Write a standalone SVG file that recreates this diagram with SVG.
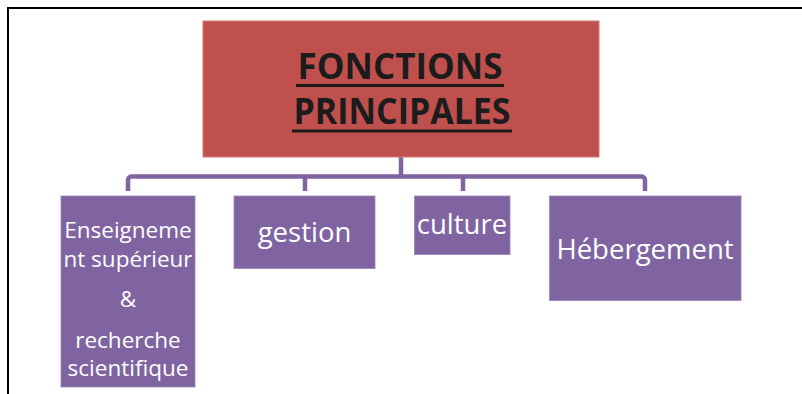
<svg xmlns="http://www.w3.org/2000/svg" width="802" height="394" viewBox="0 0 802 394">
<style>
.frame{fill:none;stroke:#000;stroke-width:2}
.root{fill:#C0504D;stroke:#D47A77;stroke-width:1}
.child{fill:#8064A2;stroke:#9A84B8;stroke-width:0.8}
.title{font-family:"Open Sans","Liberation Sans",sans-serif;font-weight:bold;font-size:36px;fill:#1c1c1c;text-anchor:middle}
.uline{stroke:#1c1c1c;stroke-width:3}
.lbl{font-family:"Open Sans","Liberation Sans",sans-serif;font-size:27.5px;fill:#fff;text-anchor:middle}
.lbl2{font-family:"Open Sans","Liberation Sans",sans-serif;font-size:22.5px;fill:#fff;text-anchor:middle}
.conn{fill:none;stroke:#8064A2;stroke-width:4.5;stroke-linejoin:round}
</style>
<rect x="0" y="0" width="802" height="394" fill="#fff"/>
<path class="frame" d="M802 8H8V394"/>
<g id="connectors">
<path class="conn" d="M401 157V176.5"/>
<path class="conn" d="M128 191V180a3.5 3.5 0 0 1 3.5-3.5H641.5a3.5 3.5 0 0 1 3.5 3.5V191"/>
<path class="conn" d="M305 176.5V191"/>
<path class="conn" d="M463 176.5V191"/>
</g>
<g id="node-fonctions">
<rect class="root" x="203" y="21" width="396" height="136"/>
<text class="title" x="400" y="78.5" textLength="205" lengthAdjust="spacingAndGlyphs">FONCTIONS</text>
<line class="uline" x1="296" y1="85.5" x2="504" y2="85.5"/>
<text class="title" x="402" y="124" textLength="217" lengthAdjust="spacingAndGlyphs">PRINCIPALES</text>
<line class="uline" x1="292" y1="131" x2="512" y2="131"/>
</g>
<g id="node-enseignement">
<rect class="child" x="61" y="196" width="134" height="191"/>
<text class="lbl2" x="128" y="238">Enseigneme</text>
<text class="lbl2" x="128" y="266.5">nt supérieur</text>
<text class="lbl2" x="128" y="307">&amp;</text>
<text class="lbl2" x="128" y="348">recherche</text>
<text class="lbl2" x="128" y="375.5">scientifique</text>
</g>
<g id="node-gestion">
<rect class="child" x="234" y="196" width="141" height="72.5"/>
<text class="lbl" x="304.5" y="241.5">gestion</text>
</g>
<g id="node-culture">
<rect class="child" x="414.5" y="196" width="95.5" height="58.5"/>
<text class="lbl" x="462" y="233.5">culture</text>
</g>
<g id="node-hebergement">
<rect class="child" x="549.5" y="196" width="191.5" height="104.5"/>
<text class="lbl" x="645" y="258.5">Hébergement</text>
</g>
</svg>
